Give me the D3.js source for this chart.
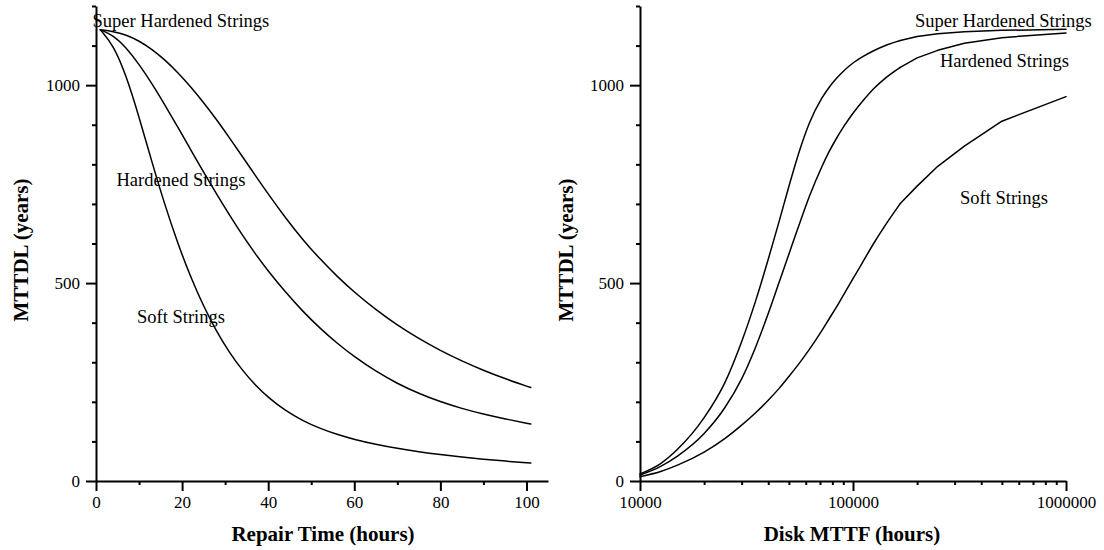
<!DOCTYPE html>
<html>
<head>
<meta charset="utf-8">
<script src="https://cdn.jsdelivr.net/npm/d3@7"></script>
<style>
  html, body { margin: 0; padding: 0; background: #fff; }
  svg { display: block; }
</style>
</head>
<body>
<svg id="chart" width="1104" height="550"></svg>
<script>
// ---- Left panel: MTTDL versus repair time ----
const repairHours = [1, 4, 7, 10, 13, 16, 19, 22, 25, 28, 31, 34, 37, 40, 44, 48, 52, 56, 60, 65, 70, 75, 80, 85, 90, 95, 101];
const repairSuper = [1140, 1136, 1127, 1112, 1091, 1064, 1032, 996, 956, 913, 867, 820, 772, 725, 665, 610, 561, 517, 477, 432.5, 393.5, 359.5, 329.5, 303, 279.5, 258.5, 236];
const repairHard  = [1140, 1126, 1095, 1053, 1004, 950, 894, 837, 780, 725, 672, 621, 574, 530, 477, 429, 386, 348, 314, 277, 246, 221, 200, 183, 169, 157, 144];
const repairSoft  = [1140, 1102, 1025, 920, 805, 697, 600, 514.4, 440.9, 377.9, 324.3, 279.5, 242.4, 210.9, 177.5, 152.4, 133, 117.6, 105.1, 92.4, 82.2, 73.7, 66.6, 60.4, 55, 50.3, 45.3];

// ---- Right panel: MTTDL versus disk MTTF ----
const diskMttf = [10000, 12500, 15000, 20000, 25000, 30000, 35000, 40000, 45000, 50000, 55000, 62500, 71400, 76900, 83300, 90900, 100000, 111100, 125000, 142900, 166700, 200000, 250000, 333300, 500000, 1000000];
const mttfSuper = [18, 44, 80, 160, 248, 352, 457, 560, 656, 744, 820, 905, 967, 993, 1016, 1037, 1056, 1072, 1087, 1101, 1113, 1123, 1130, 1135, 1138.5, 1141];
const mttfHard  = [15, 37, 63, 120, 185, 258, 340, 423, 502, 573, 637, 720, 794, 830, 864, 897, 929, 960, 991, 1019, 1045, 1069, 1088, 1106, 1120, 1132];
const mttfSoft  = [11, 24, 40, 73, 107, 141, 173, 204, 234, 264, 292, 333, 380, 408, 438, 473, 511, 553, 600, 649, 701, 745, 795, 846, 909, 971];
// Beyond this MTTF the sample points are far apart and joined by straight segments
const mttfCoarseFrom = 166700;

// Tick values
const yMajor = [0, 500, 1000];
const yMinor = [100, 200, 300, 400, 600, 700, 800, 900, 1100, 1200];
const repairMajor = [0, 20, 40, 60, 80, 100];
const repairMinor = [10, 30, 50, 70, 90];
const mttfMajor = [10000, 100000, 1000000];
const mttfMinor = [20000, 30000, 40000, 50000, 60000, 70000, 80000, 90000,
                   200000, 300000, 400000, 500000, 600000, 700000, 800000, 900000];

const seriesNames = ["Super Hardened Strings", "Hardened Strings", "Soft Strings"];

const FONT = '"Liberation Serif", "Times New Roman", Times, serif';
const svg = d3.select("#chart");

const yScale = d3.scaleLinear().domain([0, 1200]).range([481, 6]);
const xRepair = d3.scaleLinear().domain([0, 105]).range([96, 548]);
const xMttf = d3.scaleLog().domain([10000, 1000000]).range([640, 1066]);

function styleAxis(g, fontSize) {
  g.attr("font-family", FONT).attr("font-size", fontSize);
  g.selectAll(".domain").attr("stroke", "#000").attr("stroke-width", 2);
  g.selectAll(".tick line").attr("stroke", "#000").attr("stroke-width", 2);
  g.selectAll(".tick text").attr("fill", "#000");
}

function drawYAxis(x0) {
  const major = svg.append("g").attr("transform", `translate(${x0},0)`)
    .call(d3.axisLeft(yScale).tickValues(yMajor).tickSize(10).tickSizeOuter(0).tickPadding(6).tickFormat(d3.format("d")));
  styleAxis(major, 17);
  const minor = svg.append("g").attr("transform", `translate(${x0},0)`)
    .call(d3.axisLeft(yScale).tickValues(yMinor).tickSize(4).tickSizeOuter(0).tickFormat(""));
  minor.select(".domain").remove();
  styleAxis(minor, 17);
}

function drawXAxis(scale, majorVals, minorVals) {
  const major = svg.append("g").attr("transform", `translate(0,${yScale(0)})`)
    .call(d3.axisBottom(scale).tickValues(majorVals).tickSize(10).tickSizeOuter(0).tickPadding(5).tickFormat(d3.format("d")));
  styleAxis(major, 17);
  const minor = svg.append("g").attr("transform", `translate(0,${yScale(0)})`)
    .call(d3.axisBottom(scale).tickValues(minorVals).tickSize(4).tickSizeOuter(0).tickFormat(""));
  minor.select(".domain").remove();
  styleAxis(minor, 17);
}

// Axes
drawYAxis(96);
drawXAxis(xRepair, repairMajor, repairMinor);
drawYAxis(640);
drawXAxis(xMttf, mttfMajor, mttfMinor);

// Curves
const lineRepair = d3.line()
  .x(d => xRepair(d[0])).y(d => yScale(d[1]))
  .curve(d3.curveBasis);
const lineMttfSmooth = d3.line()
  .x(d => xMttf(d[0])).y(d => yScale(d[1]))
  .curve(d3.curveMonotoneX);
const lineMttfCoarse = d3.line()
  .x(d => xMttf(d[0])).y(d => yScale(d[1]));

function curvePath(d, gen) {
  svg.append("path").datum(d).attr("d", gen)
    .attr("fill", "none").attr("stroke", "#000").attr("stroke-width", 1.5)
    .attr("stroke-linejoin", "round").attr("stroke-linecap", "round");
}

[repairSuper, repairHard, repairSoft].forEach(vals => {
  curvePath(repairHours.map((h, i) => [h, vals[i]]), lineRepair);
});
[mttfSuper, mttfHard, mttfSoft].forEach(vals => {
  const pts = diskMttf.map((m, i) => [m, vals[i]]);
  curvePath(pts.filter(p => p[0] <= mttfCoarseFrom), lineMttfSmooth);
  curvePath(pts.filter(p => p[0] >= mttfCoarseFrom), lineMttfCoarse);
});

// Series labels
const labelStyle = sel => sel.attr("font-family", FONT).attr("font-size", 18.5).attr("fill", "#000");
const leftLabels = [[92.5, 27], [116.5, 186], [137, 323]];
const rightLabels = [[915, 27], [940, 67], [960, 204]];
seriesNames.forEach((name, i) => {
  svg.append("text").attr("x", leftLabels[i][0]).attr("y", leftLabels[i][1]).text(name).call(labelStyle);
  svg.append("text").attr("x", rightLabels[i][0]).attr("y", rightLabels[i][1]).text(name).call(labelStyle);
});

// Axis titles
const titleStyle = sel => sel.attr("font-family", FONT).attr("font-size", 21)
  .attr("font-weight", "bold").attr("fill", "#000").attr("text-anchor", "middle");
svg.append("text").attr("x", 323).attr("y", 541).text("Repair Time (hours)").call(titleStyle);
svg.append("text").attr("x", 852).attr("y", 541).text("Disk MTTF (hours)").call(titleStyle);
svg.append("text").attr("transform", "translate(28,250) rotate(-90)").text("MTTDL (years)").call(titleStyle);
svg.append("text").attr("transform", "translate(573,250) rotate(-90)").text("MTTDL (years)").call(titleStyle);
</script>
</body>
</html>
